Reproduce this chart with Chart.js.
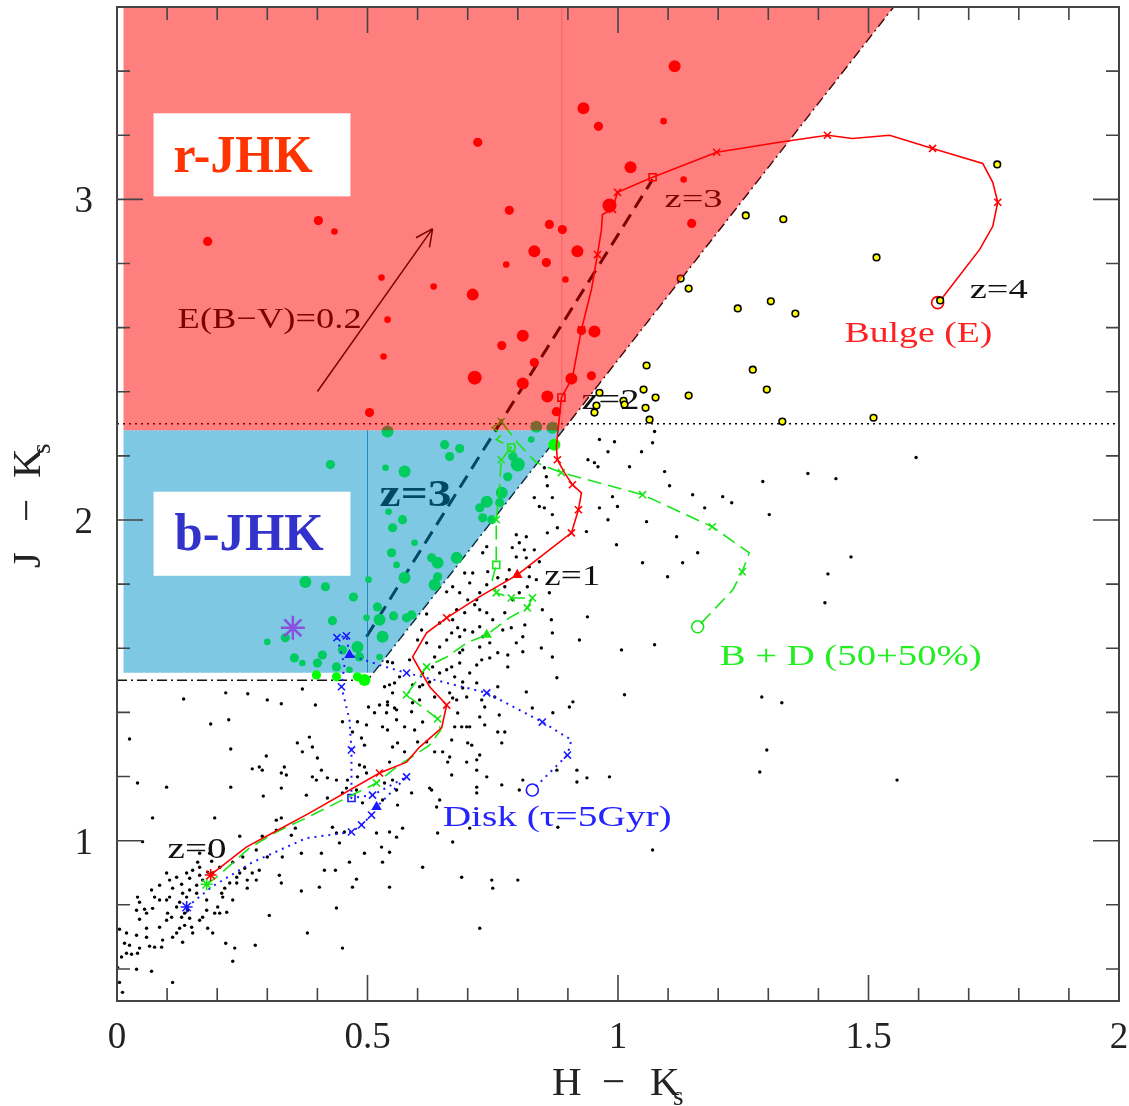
<!DOCTYPE html>
<html>
<head>
<meta charset="utf-8">
<script src="https://cdn.jsdelivr.net/npm/chart.js@4/dist/chart.umd.min.js"></script>
<style>
  html, body { margin: 0; padding: 0; background: #fff; }
  canvas { display: block; }
</style>
</head>
<body>
<canvas id="chart" width="1129" height="1106"></canvas>
<script>
// axes
const xMajorTicks = [0, 0.5, 1, 1.5, 2];
const xTickLabels = ['0', '0.5', '1', '1.5', '2'];
const xMinorTicks = [0.1, 0.2, 0.3, 0.4, 0.6, 0.7, 0.8, 0.9, 1.1, 1.2, 1.3, 1.4, 1.6, 1.7, 1.8, 1.9];
const yMajorTicks = [1, 2, 3];
const yTickLabels = ['1', '2', '3'];
const yMinorTicks = [0.6, 0.8, 1.2, 1.4, 1.6, 1.8, 2.2, 2.4, 2.6, 2.8, 3.2, 3.4];

// selection regions and guide lines (H-Ks, J-Ks)
const rJHKRegion = [[0.013, 3.6], [1.55, 3.6], [0.89, 2.28], [0.013, 2.28]];
const bJHKRegion = [[0.013, 2.28], [0.89, 2.28], [0.512, 1.524], [0.013, 1.524]];
const rSeam = [[0.888, 2.28], [0.888, 3.6]];
const bSeam = [[0.5, 1.524], [0.5, 2.28]];
const jhkBoundary = [[0, 1.5], [0.5, 1.5], [1.55, 3.6]];
const redLimit = [[0, 2.3], [2, 2.3]];
const z3Line = [[0.498, 1.636], [1.069, 3.062]];
const reddeningArrow = [[0.400, 2.401], [0.630, 2.909]];

// model tracks; marks: * z=0, x step, t triangle, s square, o end
const bulgeTrack = [
  [0.187, 0.893], [0.258, 0.980], [0.314, 1.027], [0.384, 1.086], [0.524, 1.211], [0.578, 1.245],
  [0.604, 1.292], [0.648, 1.352], [0.658, 1.423], [0.624, 1.480], [0.590, 1.573], [0.618, 1.648],
  [0.658, 1.695], [0.724, 1.761], [0.799, 1.829], [0.863, 1.907], [0.907, 1.960], [0.921, 2.032],
  [0.927, 2.085], [0.909, 2.110], [0.893, 2.148], [0.879, 2.188], [0.877, 2.229], [0.887, 2.382],
  [0.909, 2.444], [0.927, 2.594], [0.947, 2.719], [0.959, 2.828], [0.967, 2.906], [0.969, 2.953],
  [0.989, 2.969], [0.999, 3.022], [1.069, 3.069], [1.197, 3.147], [1.322, 3.178], [1.418, 3.200],
  [1.468, 3.190], [1.542, 3.200], [1.628, 3.159], [1.728, 3.112], [1.748, 3.053], [1.758, 2.991],
  [1.748, 2.916], [1.722, 2.844], [1.648, 2.694], [1.638, 2.678],
];
const bulgeMarks = '*...x...x...x.t.xx.x.x.s.x.x..xxsx.x..x..x...o';

const mixTrack = [
  [0.179, 0.864], [0.199, 0.886], [0.264, 0.977], [0.318, 1.027], [0.378, 1.071], [0.518, 1.180],
  [0.558, 1.230], [0.624, 1.298], [0.646, 1.345], [0.640, 1.380], [0.604, 1.423], [0.578, 1.455],
  [0.618, 1.542], [0.658, 1.573], [0.698, 1.617], [0.738, 1.642], [0.783, 1.695], [0.819, 1.726],
  [0.829, 1.757], [0.787, 1.757], [0.757, 1.773], [0.749, 1.814], [0.757, 1.860], [0.757, 1.938],
  [0.757, 2.001], [0.763, 2.095], [0.767, 2.188], [0.787, 2.226], [0.757, 2.251], [0.769, 2.269],
  [0.749, 2.288], [0.767, 2.307], [0.803, 2.235], [0.837, 2.179], [0.887, 2.148], [1.049, 2.079],
  [1.188, 1.979], [1.262, 1.898], [1.248, 1.839], [1.229, 1.782], [1.159, 1.667],
];
const mixMarks = '*....x...x.xx..t.xxxx.s.x.xs...x..xxx.x.o';

const diskTrack = [
  [0.139, 0.793], [0.191, 0.858], [0.271, 0.933], [0.378, 1.008], [0.468, 1.027], [0.488, 1.049],
  [0.508, 1.080], [0.518, 1.105], [0.578, 1.199], [0.510, 1.142], [0.468, 1.133], [0.468, 1.283],
  [0.464, 1.377], [0.448, 1.480], [0.454, 1.548], [0.439, 1.633], [0.458, 1.639], [0.464, 1.579],
  [0.524, 1.548], [0.578, 1.523], [0.738, 1.461], [0.849, 1.370], [0.907, 1.314], [0.899, 1.267],
  [0.829, 1.158],
];
const diskMarks = '*...xxxtxxsx.x.xxt.xxx.xo';

// galaxies
const redGalaxies = [
  [0.181, 2.869], [0.402, 2.934], [0.434, 2.900], [0.528, 2.756], [0.540, 2.625], [0.532, 2.510],
  [0.504, 2.335], [1.113, 3.415], [0.931, 3.284], [0.961, 3.228], [1.091, 3.244], [0.720, 3.178],
  [1.025, 3.100], [1.131, 3.062], [0.983, 2.981], [0.783, 2.966], [1.147, 2.925], [0.863, 2.922],
  [0.889, 2.906], [0.833, 2.838], [0.919, 2.838], [0.777, 2.797], [0.857, 2.803], [0.632, 2.728],
  [0.710, 2.703], [0.895, 2.750], [0.810, 2.575], [0.768, 2.544], [0.953, 2.588], [0.927, 2.591],
  [0.833, 2.491], [0.714, 2.444], [0.810, 2.426], [0.907, 2.441], [0.947, 2.450], [0.859, 2.385],
  [0.877, 2.338],
];
const redGalaxyClass = [2, 2, 1, 1, 1, 1, 2, 3, 3, 2, 1, 2, 3, 1, 4, 2, 2, 2, 2, 3, 3, 1, 2, 1, 3, 1, 3, 2, 3, 2, 2, 4, 3, 3, 2, 3, 2];

const greenGalaxies = [
  [0.540, 2.276], [0.426, 2.173], [0.536, 2.163], [0.542, 2.026], [0.550, 1.976], [0.548, 1.898],
  [0.558, 1.860], [0.376, 1.807], [0.416, 1.792], [0.472, 1.760], [0.502, 1.814], [0.520, 1.729],
  [0.498, 1.695], [0.524, 1.689], [0.430, 1.686], [0.530, 1.636], [0.300, 1.620], [0.336, 1.633],
  [0.480, 1.604], [0.450, 1.595], [0.484, 1.573], [0.524, 1.573], [0.354, 1.570], [0.370, 1.554],
  [0.410, 1.579], [0.400, 1.554], [0.438, 1.542], [0.464, 1.533], [0.552, 1.701], [0.578, 1.695],
  [0.654, 2.235], [0.684, 2.223], [0.664, 2.198], [0.574, 2.151], [0.800, 2.173], [0.790, 2.198],
  [0.780, 2.135], [0.827, 2.251], [0.768, 2.085], [0.764, 2.054], [0.738, 2.057], [0.724, 2.038],
  [0.730, 2.007], [0.748, 2.001], [0.570, 2.001], [0.594, 1.929], [0.628, 1.882], [0.640, 1.867],
  [0.678, 1.882], [0.574, 1.820], [0.634, 1.798], [0.640, 1.823], [0.588, 1.704], [0.837, 2.291],
  [0.869, 2.288],
];
const greenGalaxyClass = [3, 2, 1, 1, 2, 2, 1, 3, 2, 2, 1, 2, 1, 3, 2, 3, 1, 2, 3, 2, 2, 1, 2, 1, 2, 2, 2, 1, 2, 2,
  2, 2, 2, 3, 4, 2, 2, 1, 3, 2, 3, 2, 2, 2, 2, 1, 2, 3, 3, 3, 3, 2, 2, 3, 3];

const limeGalaxies = [[0.398, 1.517], [0.438, 1.511], [0.494, 1.501], [0.480, 1.511], [0.873, 2.235]];
const limeGalaxyClass = [2, 2, 3, 2, 3];

const purpleStar = [[0.351, 1.664]];

const yellowGalaxies = [
  [1.255, 2.950], [1.330, 2.938], [1.516, 2.819], [1.125, 2.753], [1.141, 2.722], [1.239, 2.660],
  [1.305, 2.682], [1.354, 2.644], [1.757, 3.109], [1.643, 2.685], [1.057, 2.482], [1.269, 2.469],
  [1.297, 2.407], [1.141, 2.388], [0.963, 2.397], [1.051, 2.407], [1.075, 2.382], [0.957, 2.357],
  [0.953, 2.335], [1.011, 2.372], [1.013, 2.360], [1.055, 2.350], [1.063, 2.313], [1.328, 2.307],
  [1.510, 2.319],
];

const fieldGalaxies = [
  [0.133, 1.442], [0.217, 1.461], [0.261, 1.458], [0.370, 1.473], [0.300, 1.439], [0.328, 1.427],
  [0.396, 1.423], [0.450, 1.371], [0.502, 1.417], [0.514, 1.399], [0.524, 1.423], [0.538, 1.399],
  [0.540, 1.433], [0.554, 1.414], [0.480, 1.371], [0.498, 1.361], [0.470, 1.339], [0.488, 1.320],
  [0.494, 1.298], [0.558, 1.377], [0.025, 1.317], [0.187, 1.364], [0.223, 1.377], [0.227, 1.286],
  [0.360, 1.305], [0.384, 1.323], [0.370, 1.277], [0.390, 1.292], [0.400, 1.258], [0.298, 1.264],
  [0.284, 1.230], [0.270, 1.224], [0.290, 1.220], [0.334, 1.230], [0.328, 1.211], [0.338, 1.205],
  [0.408, 1.220], [0.390, 1.199], [0.398, 1.189], [0.420, 1.196], [0.438, 1.189], [0.460, 1.189],
  [0.484, 1.236], [0.494, 1.230], [0.498, 1.211], [0.480, 1.199], [0.458, 1.164], [0.450, 1.149],
  [0.478, 1.158], [0.490, 1.118], [0.041, 1.180], [0.099, 1.167], [0.227, 1.167], [0.292, 1.139],
  [0.328, 1.164], [0.378, 1.142], [0.420, 1.133], [0.071, 1.071], [0.195, 1.071], [0.051, 0.997],
  [0.245, 1.014], [0.290, 1.014], [0.318, 1.033], [0.328, 1.071], [0.318, 1.064], [0.348, 1.017],
  [0.356, 1.039], [0.368, 0.961], [0.408, 0.961], [0.430, 1.042], [0.438, 1.024], [0.454, 1.027],
  [0.444, 0.993], [0.494, 0.961], [0.518, 1.024], [0.528, 0.980], [0.544, 0.964], [0.530, 0.933],
  [0.544, 1.027], [0.558, 1.011], [0.544, 0.855], [0.436, 0.908], [0.414, 0.908], [0.464, 0.933],
  [0.368, 0.843], [0.404, 0.855], [0.470, 0.855], [0.478, 0.880], [0.438, 0.790], [0.380, 0.712],
  [0.450, 0.665], [0.304, 0.767], [0.276, 0.674], [0.235, 0.665], [0.231, 0.624], [0.217, 0.680],
  [0.111, 0.558], [0.069, 0.593], [0.039, 0.599], [0.005, 0.558], [0.011, 0.527], [0.001, 0.605],
  [0.005, 0.724], [0.019, 0.712], [0.015, 0.680], [0.025, 0.674], [0.009, 0.637], [0.019, 0.649],
  [0.029, 0.646], [0.045, 0.665], [0.041, 0.649], [0.039, 0.705], [0.059, 0.699], [0.065, 0.671],
  [0.075, 0.668], [0.089, 0.668], [0.091, 0.690], [0.085, 0.730], [0.059, 0.727], [0.045, 0.755],
  [0.039, 0.783], [0.055, 0.786], [0.045, 0.808], [0.041, 0.824], [0.059, 0.774], [0.071, 0.789],
  [0.085, 0.815], [0.099, 0.815], [0.105, 0.824], [0.075, 0.824], [0.069, 0.846], [0.085, 0.861],
  [0.105, 0.877], [0.099, 0.899], [0.119, 0.886], [0.129, 0.864], [0.131, 0.836], [0.111, 0.852],
  [0.101, 0.774], [0.099, 0.752], [0.109, 0.761], [0.119, 0.712], [0.125, 0.727], [0.129, 0.761],
  [0.135, 0.774], [0.141, 0.783], [0.145, 0.758], [0.135, 0.736], [0.149, 0.730], [0.151, 0.712],
  [0.131, 0.683], [0.111, 0.699], [0.119, 0.793], [0.125, 0.808], [0.139, 0.824], [0.145, 0.846],
  [0.159, 0.836], [0.159, 0.861], [0.171, 0.877], [0.165, 0.892], [0.181, 0.902], [0.191, 0.899],
  [0.165, 0.917], [0.151, 0.908], [0.139, 0.899], [0.145, 0.883], [0.161, 0.933], [0.189, 0.936],
  [0.205, 0.917], [0.179, 0.815], [0.179, 0.783], [0.171, 0.761], [0.165, 0.752], [0.181, 0.727],
  [0.191, 0.712], [0.201, 0.793], [0.195, 0.774], [0.205, 0.774], [0.219, 0.777], [0.209, 0.836],
  [0.215, 0.852], [0.211, 0.824], [0.225, 0.868], [0.231, 0.815], [0.239, 0.886], [0.245, 0.899],
  [0.255, 0.914], [0.270, 0.899], [0.284, 0.908], [0.278, 0.877], [0.260, 0.852], [0.260, 0.877],
  [0.324, 0.892], [0.328, 0.868], [0.330, 0.949], [0.251, 0.949], [0.278, 0.971], [0.231, 0.933],
  [0.239, 0.868], [0.300, 0.949], [0.165, 0.961], [0.185, 0.961],
  [0.534, 1.480], [0.554, 1.492], [0.540, 1.423], [0.558, 1.408], [0.588, 1.402], [0.604, 1.439],
  [0.610, 1.486], [0.590, 1.486], [0.670, 1.445], [0.680, 1.398], [0.698, 1.355], [0.724, 1.386],
  [0.734, 1.361], [0.763, 1.392], [0.760, 1.480], [0.690, 1.476], [0.664, 1.461], [0.718, 1.492],
  [0.530, 1.355], [0.540, 1.345], [0.574, 1.355], [0.594, 1.345], [0.610, 1.370], [0.618, 1.308],
  [0.600, 1.308], [0.574, 1.277], [0.550, 1.292], [0.544, 1.245], [0.560, 1.305], [0.634, 1.277],
  [0.650, 1.277], [0.664, 1.261], [0.660, 1.245], [0.668, 1.314], [0.674, 1.355], [0.688, 1.355],
  [0.704, 1.355], [0.700, 1.305], [0.708, 1.298], [0.724, 1.267], [0.718, 1.252], [0.698, 1.245],
  [0.768, 1.305], [0.760, 1.339], [0.774, 1.339], [0.734, 1.417], [0.738, 1.199], [0.718, 1.220],
  [0.718, 1.167], [0.718, 1.149], [0.768, 1.174], [0.803, 1.158], [0.810, 1.189], [0.668, 1.205],
  [0.624, 1.164], [0.628, 1.158], [0.588, 1.149], [0.558, 1.158], [0.550, 1.189], [0.530, 1.127],
  [0.534, 1.180], [0.560, 1.111], [0.570, 1.039], [0.640, 1.024], [0.670, 0.996], [0.704, 1.039],
  [0.644, 1.127], [0.638, 1.105], [0.610, 0.917], [0.688, 0.886], [0.748, 0.877], [0.750, 0.852],
  [0.800, 0.877], [0.724, 0.727], [0.870, 1.399], [0.903, 1.417], [0.910, 1.433], [0.918, 1.220],
  [0.918, 1.183], [0.938, 1.196], [0.983, 1.199], [0.878, 1.220], [0.880, 1.042], [1.013, 1.455],
  [1.069, 0.971], [1.287, 1.448], [1.327, 1.430], [1.297, 1.283], [1.283, 1.214], [1.557, 1.189],
  [1.073, 2.276], [0.963, 2.251], [0.993, 2.244], [1.069, 2.241], [0.980, 2.213], [1.047, 2.213],
  [0.940, 2.188], [0.953, 2.179], [0.960, 2.166], [1.023, 2.166], [1.093, 2.151], [0.853, 2.163],
  [0.857, 2.135], [1.289, 2.120], [1.103, 2.107], [1.149, 2.079], [1.209, 2.073], [1.227, 2.054],
  [0.989, 2.073], [0.859, 2.107], [0.833, 2.070], [0.869, 2.070], [0.843, 2.042], [0.853, 2.038],
  [0.963, 2.038], [0.999, 2.042], [1.173, 2.038], [1.302, 2.017], [0.869, 2.017], [0.879, 1.976],
  [0.980, 2.001], [1.057, 1.995], [0.937, 1.964], [1.117, 1.948], [1.159, 1.898], [1.129, 1.867],
  [1.049, 1.867], [1.099, 1.823], [0.997, 1.923], [0.859, 1.960], [0.817, 1.948], [0.803, 1.929],
  [0.797, 1.954], [0.789, 1.914], [0.813, 1.907], [0.833, 1.907], [0.797, 1.885], [0.817, 1.882],
  [0.843, 1.870], [0.823, 1.854], [0.738, 1.917], [0.730, 1.898], [0.740, 1.839], [0.760, 1.820],
  [0.774, 1.792], [0.778, 1.814], [0.783, 1.845], [0.738, 1.798], [0.724, 1.773], [0.718, 1.751],
  [0.710, 1.835], [0.694, 1.835], [0.704, 1.804], [0.670, 1.792], [0.658, 1.776], [0.684, 1.773],
  [0.700, 1.751], [0.714, 1.736], [0.724, 1.720], [0.738, 1.711], [0.694, 1.711], [0.678, 1.720],
  [0.670, 1.689], [0.644, 1.679], [0.680, 1.664], [0.668, 1.648], [0.684, 1.636], [0.694, 1.657],
  [0.710, 1.651], [0.724, 1.667], [0.730, 1.636], [0.744, 1.617], [0.724, 1.604], [0.690, 1.595],
  [0.658, 1.626], [0.644, 1.604], [0.634, 1.573], [0.630, 1.542], [0.644, 1.523], [0.658, 1.533],
  [0.668, 1.542], [0.684, 1.554], [0.674, 1.511], [0.690, 1.495], [0.704, 1.523], [0.718, 1.548],
  [0.728, 1.564], [0.744, 1.570], [0.760, 1.586], [0.780, 1.579], [0.780, 1.542], [0.797, 1.617],
  [0.810, 1.636], [0.814, 1.673], [0.787, 1.664], [0.770, 1.657], [0.750, 1.689], [0.774, 1.711],
  [0.790, 1.751], [0.803, 1.773], [0.819, 1.792], [0.823, 1.823], [0.837, 1.814], [0.863, 1.773],
  [0.849, 1.720], [0.867, 1.689], [0.939, 1.698], [0.869, 1.648], [0.847, 1.601], [0.810, 1.589],
  [0.869, 1.573], [0.923, 1.626], [1.007, 1.595], [1.073, 1.611], [0.878, 1.508], [0.610, 1.523],
  [0.604, 1.480], [0.590, 1.430], [0.544, 1.486], [0.564, 1.511], [0.584, 1.564], [0.624, 1.495],
  [0.550, 1.461], [0.634, 1.448], [0.678, 1.439], [0.698, 1.448], [0.728, 1.439], [0.754, 1.448],
  [0.817, 1.464], [0.829, 1.414], [0.618, 1.617], [0.684, 1.586], [0.540, 1.558], [0.550, 1.555],
  [0.618, 1.707], [0.608, 1.657], [0.600, 1.626], [1.379, 2.145], [1.435, 2.129], [1.595, 2.195],
  [1.465, 1.885], [1.419, 1.832], [1.413, 1.742],
];

const toXY = (pts) => pts.map(([x, y]) => ({ x, y }));
const sizeOf = { 1: 3.3, 2: 4.6, 3: 6, 4: 7 };

const MARKS = {
  '.': { style: 'circle', radius: 0 },
  x: { style: 'crossRot', radius: 5 },
  t: { style: 'triangle', radius: 4.5 },
  s: { style: 'rect', radius: 5 },
  o: { style: 'circle', radius: 6 },
  '*': { style: 'star', radius: 6 },
};

function trackDataset(label, pts, marks, color, dash, width, order) {
  const codes = marks.split('');
  return {
    type: 'line', label, order,
    data: toXY(pts),
    borderColor: color, borderWidth: width, borderDash: dash,
    tension: 0, fill: false,
    pointStyle: codes.map((c) => MARKS[c].style),
    pointRadius: codes.map((c) => MARKS[c].radius),
    pointBorderColor: color,
    pointBackgroundColor: codes.map((c) => (c === 't' ? color : 'rgba(0,0,0,0)')),
    pointBorderWidth: 1.6,
  };
}

function regionDataset(label, pts, color, order) {
  return {
    type: 'line', label, order, data: toXY(pts), fill: 'shape',
    backgroundColor: color, borderColor: 'rgba(0,0,0,0)', borderWidth: 1, pointRadius: 0, tension: 0,
  };
}

function guideDataset(label, pts, color, width, dash, order) {
  return {
    type: 'line', label, order, data: toXY(pts), fill: false,
    borderColor: color, borderWidth: width, borderDash: dash, borderCapStyle: 'butt',
    pointRadius: 0, tension: 0,
  };
}

function dotDataset(label, pts, classes, fillColor, edge, edgeWidth, order) {
  return {
    type: 'scatter', label, order, data: toXY(pts),
    pointRadius: classes.map((c) => sizeOf[c]),
    pointBackgroundColor: fillColor, pointBorderColor: edge, pointBorderWidth: edgeWidth,
  };
}

const SERIF = '"Liberation Serif", "DejaVu Serif", serif';

function fitText(ctx, text, x, y, width, font, color) {
  ctx.save();
  ctx.font = font;
  ctx.fillStyle = color;
  ctx.textBaseline = 'alphabetic';
  ctx.textAlign = 'left';
  const w = ctx.measureText(text).width;
  ctx.translate(x, y);
  ctx.scale(width / w, 1);
  ctx.fillText(text, 0, 0);
  ctx.restore();
}

// labels sitting under the coloured overlays
const underBlueLabels = [
  { text: 'z=3', x: 0.524, y: 2.045, w: 72, font: 'bold 37px ' + SERIF, color: '#000' },
  { text: 'E(B\u2212V)=0.2', x: 0.121, y: 2.600, w: 184, font: '30px ' + SERIF, color: '#000' },
];
const underRedLabels = [
  { text: 'z=3', x: 1.093, y: 2.975, w: 58, font: '25px ' + SERIF, color: '#000' },
  { text: 'z=2', x: 0.927, y: 2.347, w: 58, font: '30px ' + SERIF, color: '#111' },
  { text: 'z=1', x: 0.853, y: 1.798, w: 56, font: '29px ' + SERIF, color: '#111' },
  { text: 'z=0', x: 0.101, y: 0.946, w: 59, font: '29px ' + SERIF, color: '#111' },
  { text: 'z=4', x: 1.702, y: 2.694, w: 58, font: '28px ' + SERIF, color: '#111' },
  { text: 'Bulge (E)', x: 1.452, y: 2.554, w: 148, font: '30px ' + SERIF, color: '#ff2222' },
  { text: 'B + D (50+50%)', x: 1.203, y: 1.548, w: 262, font: '30px ' + SERIF, color: '#22ee22' },
  { text: 'Disk (\u03c4=5Gyr)', x: 0.650, y: 1.046, w: 229, font: '30px ' + SERIF, color: '#2424ff' },
];
const boxes = [
  { x0: 0.073, x1: 0.466, y0: 3.2685, y1: 3.0094, text: 'r-JHK', tx: 0.113, ty: 3.084, w: 139, color: '#ff3300' },
  { x0: 0.073, x1: 0.466, y0: 2.0883, y1: 1.8261, text: 'b-JHK', tx: 0.115, ty: 1.907, w: 149, color: '#3333cc' },
];

function drawLabels(chart, list) {
  const { ctx, scales: { x: xs, y: ys } } = chart;
  list.forEach((l) => fitText(ctx, l.text, xs.getPixelForValue(l.x), ys.getPixelForValue(l.y), l.w, l.font, l.color));
}

function drawArrow(chart) {
  const { ctx, scales: { x: xs, y: ys } } = chart;
  const [a, b] = reddeningArrow;
  const x0 = xs.getPixelForValue(a[0]), y0 = ys.getPixelForValue(a[1]);
  const x1 = xs.getPixelForValue(b[0]), y1 = ys.getPixelForValue(b[1]);
  const ang = Math.atan2(y1 - y0, x1 - x0);
  ctx.save();
  ctx.strokeStyle = '#000';
  ctx.lineWidth = 1.5;
  ctx.beginPath();
  ctx.moveTo(x0, y0);
  ctx.lineTo(x1, y1);
  [0.45, -0.45].forEach((d) => {
    ctx.moveTo(x1, y1);
    ctx.lineTo(x1 - 19 * Math.cos(ang + d), y1 - 19 * Math.sin(ang + d));
  });
  ctx.stroke();
  ctx.restore();
}

function drawBoxes(chart) {
  const { ctx, scales: { x: xs, y: ys } } = chart;
  boxes.forEach((b) => {
    const l = xs.getPixelForValue(b.x0), r = xs.getPixelForValue(b.x1);
    const t = ys.getPixelForValue(b.y0), btm = ys.getPixelForValue(b.y1);
    ctx.fillStyle = '#fff';
    ctx.fillRect(l, t, r - l, btm - t);
    fitText(ctx, b.text, xs.getPixelForValue(b.tx), ys.getPixelForValue(b.ty), b.w, 'bold 52px ' + SERIF, b.color);
  });
}

function drawFrame(chart) {
  const { ctx, chartArea: a, scales: { x: xs, y: ys } } = chart;
  ctx.save();
  ctx.strokeStyle = '#444';
  ctx.lineWidth = 2;
  ctx.strokeRect(a.left, a.top, a.right - a.left, a.bottom - a.top);
  ctx.lineWidth = 1.6;
  ctx.beginPath();
  const xt = (vals, len) => vals.forEach((v) => {
    const p = xs.getPixelForValue(v);
    ctx.moveTo(p, a.bottom); ctx.lineTo(p, a.bottom - len);
    ctx.moveTo(p, a.top); ctx.lineTo(p, a.top + len);
  });
  const yt = (vals, len) => vals.forEach((v) => {
    const p = ys.getPixelForValue(v);
    ctx.moveTo(a.left, p); ctx.lineTo(a.left + len, p);
    ctx.moveTo(a.right, p); ctx.lineTo(a.right - len, p);
  });
  xt(xMajorTicks, 26); xt(xMinorTicks, 13);
  yt(yMajorTicks, 26); yt(yMinorTicks, 13);
  ctx.stroke();

  ctx.fillStyle = '#222';
  ctx.font = '37px ' + SERIF;
  ctx.textBaseline = 'alphabetic';
  ctx.textAlign = 'center';
  xMajorTicks.forEach((v, i) => ctx.fillText(xTickLabels[i], xs.getPixelForValue(v), a.bottom + 47));
  ctx.textAlign = 'right';
  yMajorTicks.forEach((v, i) => ctx.fillText(yTickLabels[i], a.left - 24, ys.getPixelForValue(v) + 13));

  // axis titles
  ctx.textAlign = 'left';
  const big = '41px ' + SERIF, small = '27px ' + SERIF;
  const xBase = a.bottom + 94;
  ctx.font = big;
  ctx.fillText('H', 552, xBase);
  ctx.fillText('\u2212', 602, xBase);
  ctx.fillText('K', 650, xBase);
  ctx.font = small;
  ctx.fillText('s', 673, xBase + 10);

  ctx.translate(40, 568);
  ctx.rotate(-Math.PI / 2);
  ctx.font = big;
  ctx.fillText('J', 0, 0);
  ctx.fillText('\u2212', 46, 0);
  ctx.fillText('K', 90, 0);
  ctx.font = small;
  ctx.fillText('s', 114, 10);
  ctx.restore();
}

const layers = {
  id: 'layers',
  afterDatasetDraw(chart, args) {
    const name = chart.data.datasets[args.index].label;
    if (name === 'z3 line') {
      drawLabels(chart, underBlueLabels);
      drawArrow(chart);
    }
    if (name === 'green galaxies') drawLabels(chart, underRedLabels);
  },
  afterDatasetsDraw(chart) {
    drawBoxes(chart);
    drawFrame(chart);
  },
};

const datasets = [
  dotDataset('red galaxies', redGalaxies, redGalaxyClass, '#ff0000', '#ff0000', 0, 1),
  guideDataset('r seam', rSeam, 'rgba(220,40,40,0.35)', 1, [], 2),
  regionDataset('r-JHK', rJHKRegion, 'rgba(255,0,0,0.5)', 3),
  dotDataset('yellow galaxies', yellowGalaxies, yellowGalaxies.map(() => 1), '#ffff00', '#000', 1.6, 4),
  trackDataset('Bulge (E)', bulgeTrack, bulgeMarks, '#ff0000', [], 1.6, 5),
  trackDataset('B + D', mixTrack, mixMarks, '#19e619', [14, 7], 1.6, 6),
  trackDataset('Disk', diskTrack, diskMarks, '#1a1aff', [2, 5], 2, 7),
  {
    type: 'scatter', label: 'star', order: 8, data: toXY(purpleStar),
    pointStyle: 'star', pointRadius: 12, pointBorderColor: '#8a50e0', pointBorderWidth: 2.5,
    pointBackgroundColor: 'rgba(0,0,0,0)',
  },
  dotDataset('lime galaxies', limeGalaxies, limeGalaxyClass, '#00ff00', '#00ff00', 0, 9),
  dotDataset('green galaxies', greenGalaxies, greenGalaxyClass, '#00cc60', '#00cc60', 0, 10),
  {
    type: 'scatter', label: 'field', order: 11, data: toXY(fieldGalaxies),
    pointRadius: 1.7, pointBackgroundColor: '#000', pointBorderWidth: 0,
  },
  guideDataset('b seam', bSeam, 'rgba(0,110,180,0.7)', 1, [], 12),
  regionDataset('b-JHK', bJHKRegion, 'rgba(0,145,199,0.5)', 13),
  guideDataset('z3 line', z3Line, '#000', 3, [14, 8], 14),
  guideDataset('red limit', redLimit, '#000', 1.5, [2, 4], 15),
  guideDataset('JHK boundary', jhkBoundary, '#111', 1.5, [10, 4, 2, 4], 16),
];

new Chart(document.getElementById('chart'), {
  type: 'scatter',
  data: { datasets },
  options: {
    responsive: false,
    devicePixelRatio: 1,
    animation: false,
    layout: { autoPadding: false, padding: { left: 0, right: 10, top: 7, bottom: 0 } },
    plugins: { legend: { display: false }, tooltip: { enabled: false } },
    scales: {
      x: {
        type: 'linear', min: 0, max: 2,
        grid: { display: false, drawTicks: false },
        border: { display: false },
        ticks: { display: false },
        afterFit: (scale) => { scale.height = 105; },
      },
      y: {
        type: 'linear', min: 0.5, max: 3.6,
        grid: { display: false, drawTicks: false },
        border: { display: false },
        ticks: { display: false },
        afterFit: (scale) => { scale.width = 117; },
      },
    },
  },
  plugins: [layers],
});
</script>
</body>
</html>
